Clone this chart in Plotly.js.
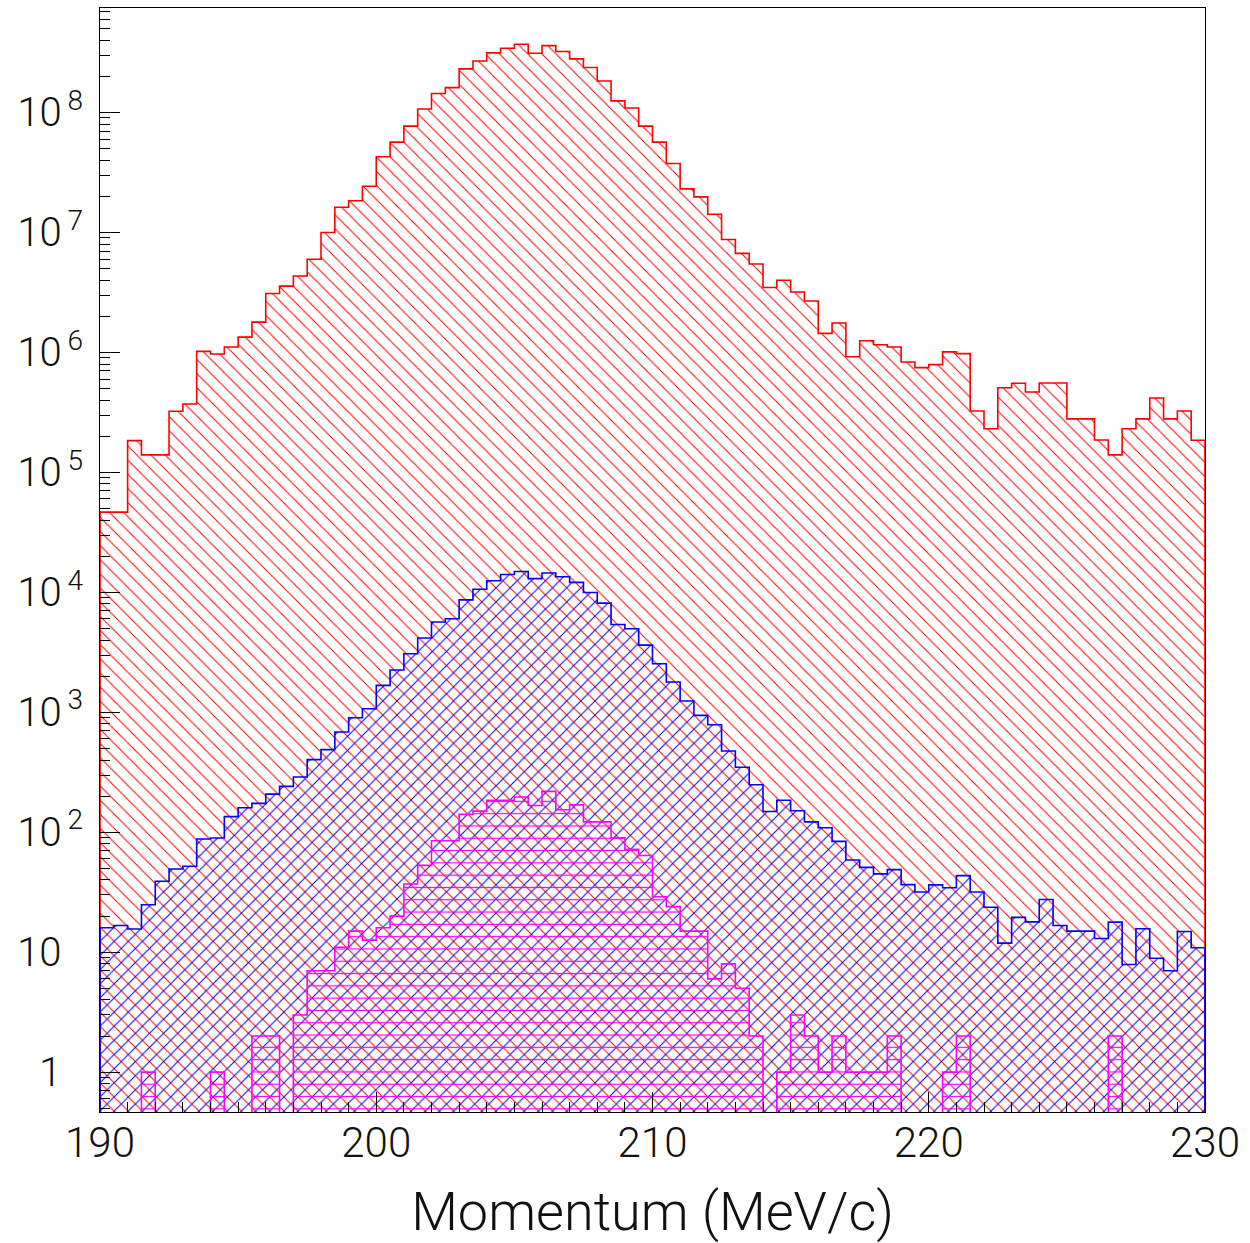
<!DOCTYPE html>
<html>
<head>
<meta charset="utf-8">
<script src="https://cdn.plot.ly/plotly-3.0.1.min.js"></script>
<style>html,body{margin:0;padding:0;background:#fff;}#chart{width:1250px;height:1243px;}</style>
</head>
<body>
<div id="chart"></div>
<script>
// Histogram binning (0.5 MeV/c bins from 190 to 230)
const xMin = 190;
const binWidth = 0.5;

// Bin contents
const redCounts = [
  4.66e4, 4.66e4, 1.84e5, 1.40e5, 1.40e5, 3.23e5, 3.72e5, 1.02e6, 9.7e5, 1.11e6,
  1.34e6, 1.79e6, 3.1e6, 3.57e6, 4.33e6, 5.97e6, 1.0e7, 1.62e7, 1.84e7, 2.43e7,
  4.27e7, 5.66e7, 7.69e7, 1.07e8, 1.44e8, 1.61e8, 2.31e8, 2.69e8, 3.14e8, 3.43e8,
  3.71e8, 3.12e8, 3.61e8, 3.22e8, 2.8e8, 2.37e8, 1.83e8, 1.25e8, 1.09e8, 7.69e7,
  5.66e7, 3.76e7, 2.31e7, 1.98e7, 1.42e7, 8.74e6, 6.69e6, 5.45e6, 3.48e6, 3.99e6,
  3.19e6, 2.68e6, 1.44e6, 1.76e6, 9.2e5, 1.25e6, 1.16e6, 1.11e6, 8.32e5, 7.46e5,
  7.91e5, 1.01e6, 9.76e5, 3.25e5, 2.31e5, 5.08e5, 5.53e5, 4.68e5, 5.56e5, 5.56e5,
  2.79e5, 2.79e5, 1.86e5, 1.40e5, 2.31e5, 2.79e5, 4.17e5, 2.79e5, 3.25e5, 1.85e5
];
const blueCounts = [
  16.0, 16.7, 15.6, 24.9, 39.0, 49.4, 52.0, 87.9, 89.6, 135,
  160, 174, 208, 241, 289, 403, 488, 685, 901, 1071,
  1675, 2250, 3075, 4156, 5650, 6016, 8650, 10600, 12500, 14100,
  14900, 13000, 14500, 13500, 12100, 9960, 8130, 5395, 4966, 3630,
  2537, 1786, 1241, 942, 788, 475, 348, 249, 149, 185,
  151, 122, 109, 84, 58.7, 51, 45, 48.8, 36.6, 31.8,
  36.4, 34.5, 43.5, 31.8, 23.7, 11.9, 19.5, 17.9, 27.5, 16.7,
  15.0, 15.0, 13.0, 17.8, 7.9, 15.7, 8.9, 7.0, 14.9, 10.9
];
const magentaCounts = [
  0, 0, 0, 1, 0, 0, 0, 0, 1, 0,
  0, 2, 2, 0, 3, 7, 7, 11, 15, 12.6,
  16, 20, 37, 53, 85, 85, 141, 150, 185, 185,
  197, 167, 219, 154, 169, 122, 122, 90, 72, 64,
  29, 24, 15, 15, 6, 8, 5, 2, 0, 1,
  3, 2, 1, 2, 1, 1, 1, 2, 0, 0,
  0, 1, 2, 0, 0, 0, 0, 0, 0, 0,
  0, 0, 0, 2, 0, 0, 0, 0, 0, 0
];

// Axis ticks and labels
const xTickVals = [190, 200, 210, 220, 230];
const yTickVals = [1, 10, 1e2, 1e3, 1e4, 1e5, 1e6, 1e7, 1e8];
const yTickText = ['\u20071<sup>\u2009\u2007</sup>', '10<sup>\u2009\u2007</sup>', '10<sup>\u20092</sup>', '10<sup>\u20093</sup>',
  '10<sup>\u20094</sup>', '10<sup>\u20095</sup>', '10<sup>\u20096</sup>', '10<sup>\u20097</sup>', '10<sup>\u20098</sup>'];
const xTitle = 'Momentum (MeV/c)';

// ---- build traces ----
const FLOOR = 1e-3; // below the visible range: empty bins fall to the frame bottom
function centers(n) { const c = []; for (let i = 0; i < n; i++) c.push(xMin + binWidth * (i + 0.5)); return c; }
function edges(n) { const e = []; for (let i = 0; i <= n; i++) e.push(xMin + binWidth * i); return e; }

function barTrace(vals, color, shape, size, solidity) {
  return {
    type: 'bar', x: centers(vals.length), y: vals.map(v => v > 0 ? v : null), width: binWidth,
    marker: { color: color, line: { width: 0 },
      pattern: { shape: shape, size: size, solidity: solidity, fillmode: 'replace', fgcolor: color } },
    hoverinfo: 'skip', showlegend: false
  };
}
function stepTrace(vals, color) {
  const e = edges(vals.length);
  const xs = [e[0]], ys = [FLOOR];
  for (let i = 0; i < vals.length; i++) { xs.push(e[i]); ys.push(vals[i] > 0 ? vals[i] : FLOOR); }
  xs.push(e[vals.length]); ys.push(FLOOR);
  return { type: 'scatter', mode: 'lines', x: xs, y: ys, line: { shape: 'hv', color: color, width: 1.6 },
    hoverinfo: 'skip', showlegend: false };
}

const data = [
  barTrace(redCounts, '#ff0000', '\\', 10, 0.1),
  barTrace(blueCounts, '#0000ff', '/', 10, 0.1),
  barTrace(magentaCounts, '#ff00ff', '-', 12.3, 0.1),
  stepTrace(redCounts, '#ff0000'),
  stepTrace(blueCounts, '#0000ff'),
  stepTrace(magentaCounts, '#ff00ff')
];

const FONT = 'Roboto, "Liberation Sans", sans-serif';
const layout = {
  width: 1250, height: 1243,
  margin: { l: 100, r: 45, t: 8, b: 131, pad: 0 },
  paper_bgcolor: '#ffffff', plot_bgcolor: '#ffffff',
  barmode: 'overlay', bargap: 0,
  showlegend: false,
  font: { family: FONT, color: '#111111', weight: 300 },
  xaxis: {
    range: [190, 230], tickmode: 'array', tickvals: xTickVals,
    ticks: 'inside', ticklen: 20, tickwidth: 1, tickcolor: '#000',
    minor: { tick0: 190, dtick: 1, ticks: 'inside', ticklen: 10, tickwidth: 1, tickcolor: '#000', showgrid: false },
    showgrid: false, zeroline: false, showline: true, mirror: true, linecolor: '#000', linewidth: 1,
    tickfont: { family: FONT, size: 42, color: '#111', weight: 300 },
    ticklabelstandoff: -6,
    title: { text: xTitle, font: { family: FONT, size: 54, color: '#111', weight: 300 }, standoff: 40 }
  },
  yaxis: {
    type: 'log', range: [-0.332, 8.871], tickmode: 'array', tickvals: yTickVals, ticktext: yTickText,
    ticks: 'inside', ticklen: 20, tickwidth: 1, tickcolor: '#000',
    minor: { dtick: 'D1', ticks: 'inside', ticklen: 10, tickwidth: 1, tickcolor: '#000', showgrid: false },
    showgrid: false, zeroline: false, showline: true, mirror: true, linecolor: '#000', linewidth: 1,
    tickfont: { family: FONT, size: 40, color: '#111', weight: 300 },
    ticklabelstandoff: 8
  }
};

Plotly.newPlot('chart', data, layout, { displayModeBar: false, staticPlot: true });
</script>
</body>
</html>
